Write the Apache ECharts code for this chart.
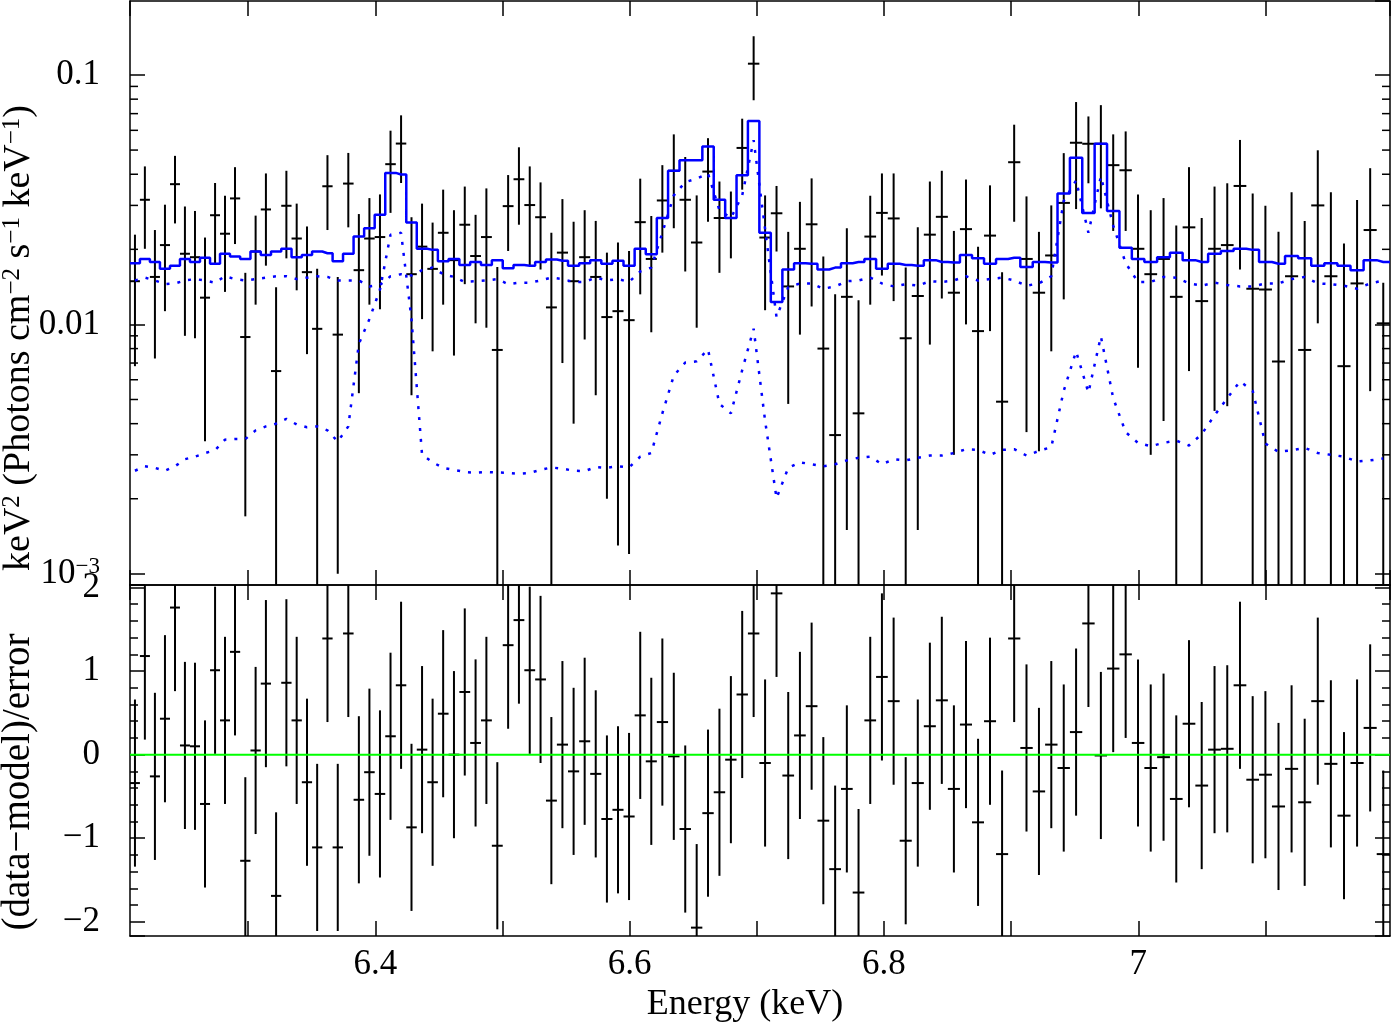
<!DOCTYPE html>
<html>
<head>
<meta charset="utf-8">
<script src="https://cdn.jsdelivr.net/npm/echarts@6/dist/echarts.min.js"></script>
<style>
  html, body { margin: 0; padding: 0; background: #fff; }
  #chart { width: 1392px; height: 1025px; }
</style>
</head>
<body>
<div id="chart"></div>
<script>
// channel centres (keV), one per spectral bin
const energy = [
  6.2109, 6.2187, 6.2266, 6.2345, 6.2424, 6.2502, 6.2581, 6.2660, 6.2739, 6.2817,
  6.2896, 6.2977, 6.3058, 6.3139, 6.3219, 6.3300, 6.3381, 6.3462, 6.3542, 6.3623,
  6.3704, 6.3787, 6.3870, 6.3953, 6.4036, 6.4119, 6.4202, 6.4284, 6.4367, 6.4450,
  6.4533, 6.4618, 6.4703, 6.4788, 6.4873, 6.4959, 6.5044, 6.5129, 6.5214, 6.5299,
  6.5384, 6.5471, 6.5559, 6.5646, 6.5733, 6.5821, 6.5908, 6.5995, 6.6083, 6.6170,
  6.6257, 6.6347, 6.6437, 6.6527, 6.6616, 6.6706, 6.6796, 6.6885, 6.6975, 6.7065,
  6.7155, 6.7247, 6.7339, 6.7431, 6.7523, 6.7616, 6.7708, 6.7800, 6.7892, 6.7984,
  6.8076, 6.8171, 6.8266, 6.8361, 6.8455, 6.8550, 6.8645, 6.8740, 6.8834, 6.8929,
  6.9024, 6.9121, 6.9219, 6.9316, 6.9414, 6.9511, 6.9608, 6.9706, 6.9803, 6.9901,
  6.9998, 7.0098, 7.0199, 7.0299, 7.0399, 7.0499, 7.0600, 7.0700, 7.0800, 7.0900,
  7.1000, 7.1103, 7.1206, 7.1309, 7.1412, 7.1515, 7.1618, 7.1721, 7.1824, 7.1927
];

// unfolded data, keV^2 (Photons cm^-2 s^-1 keV^-1)
const flux = [
  0.0149, 0.0316, 0.0155, 0.0208, 0.0365, 0.0192, 0.0186, 0.0128, 0.0274, 0.0231,
  0.0320, 0.0089, 0.0196, 0.0289, 0.0065, 0.0299, 0.0221, 0.0162, 0.0096, 0.0358,
  0.0091, 0.0367, 0.0165, 0.0221, 0.0224, 0.0439, 0.0531, 0.0159, 0.0205, 0.0167,
  0.0233, 0.0181, 0.0251, 0.0188, 0.0224, 0.0079, 0.0298, 0.0382, 0.0301, 0.0269,
  0.0117, 0.0194, 0.0149, 0.0186, 0.0155, 0.0107, 0.0113, 0.0104, 0.0257, 0.0183,
  0.0314, 0.0413, 0.0316, 0.0213, 0.0410, 0.0267, 0.0267, 0.0510, 0.1110, 0.0223,
  0.0279, 0.0142, 0.0201, 0.0252, 0.0080, 0.0036, 0.0129, 0.0044, 0.0225, 0.0280,
  0.0266, 0.0088, 0.0130, 0.0229, 0.0270, 0.0134, 0.0241, 0.0094, 0.0227, 0.0049,
  0.0447, 0.0183, 0.0134, 0.0189, 0.0307, 0.0535, 0.0530, 0.0530, 0.0435, 0.0415,
  0.0201, 0.0159, 0.0183, 0.0129, 0.0245, 0.0124, 0.0201, 0.0208, 0.0359, 0.0139,
  0.0138, 0.0071, 0.0156, 0.0079, 0.0300, 0.0156, 0.0068, 0.0146, 0.0239, 0.0101
];
// upper end of each error bar
const fluxHi = [
  0.0229, 0.0430, 0.0239, 0.0302, 0.0474, 0.0297, 0.0285, 0.0223, 0.0369, 0.0328,
  0.0427, 0.0161, 0.0273, 0.0403, 0.0141, 0.0413, 0.0305, 0.0247, 0.0167, 0.0477,
  0.0155, 0.0487, 0.0277, 0.0321, 0.0332, 0.0598, 0.0689, 0.0269, 0.0305, 0.0256,
  0.0347, 0.0287, 0.0357, 0.0275, 0.0351, 0.0170, 0.0397, 0.0513, 0.0430, 0.0371,
  0.0233, 0.0318, 0.0258, 0.0287, 0.0260, 0.0194, 0.0213, 0.0197, 0.0384, 0.0272,
  0.0435, 0.0578, 0.0469, 0.0329, 0.0558, 0.0374, 0.0341, 0.0668, 0.1430, 0.0329,
  0.0359, 0.0235, 0.0310, 0.0385, 0.0187, 0.0132, 0.0243, 0.0125, 0.0328, 0.0403,
  0.0403, 0.0169, 0.0245, 0.0374, 0.0413, 0.0237, 0.0381, 0.0205, 0.0361, 0.0162,
  0.0632, 0.0326, 0.0235, 0.0300, 0.0486, 0.0779, 0.0682, 0.0757, 0.0578, 0.0594,
  0.0332, 0.0287, 0.0321, 0.0249, 0.0427, 0.0267, 0.0357, 0.0368, 0.0549, 0.0335,
  0.0299, 0.0235, 0.0339, 0.0260, 0.0499, 0.0339, 0.0211, 0.0315, 0.0423, 0.0147
];
// lower end of each error bar (0 = runs off the bottom of the panel)
const fluxLo = [
  0.0068, 0.0201, 0.0073, 0.0113, 0.0254, 0.0090, 0.0088, 0.0034, 0.0175, 0.0135,
  0.0210, 0.0017, 0.0120, 0.0172, 0, 0.0184, 0.0137, 0.0076, 0, 0.0239,
  0.0010, 0.0245, 0.0053, 0.0120, 0.0115, 0.0280, 0.0369, 0.0052, 0.0105, 0.0078,
  0.0120, 0.0075, 0.0145, 0.0101, 0.0097, 0, 0.0197, 0.0251, 0.0173, 0.0166,
  0, 0.0070, 0.0040, 0.0087, 0.0052, 0.0020, 0.0013, 0.0012, 0.0132, 0.0093,
  0.0194, 0.0243, 0.0163, 0.0097, 0.0258, 0.0161, 0.0184, 0.0347, 0.0792, 0.0114,
  0.0196, 0.0048, 0.0091, 0.0118, 0, 0, 0.0015, 0, 0.0120, 0.0157,
  0.0124, 0, 0.0015, 0.0083, 0.0127, 0.0030, 0.0100, 0, 0.0094, 0,
  0.0258, 0.0037, 0.0031, 0.0078, 0.0126, 0.0290, 0.0368, 0.0292, 0.0237, 0.0237,
  0.0067, 0.0030, 0.0041, 0, 0.0065, 0, 0.0045, 0.0047, 0.0166, 0,
  0, 0, 0, 0, 0.0101, 0, 0, 0, 0.0054, 0
];

// folded total model (histogram)
const model = [
  0.0176, 0.0183, 0.0178, 0.0167, 0.0172, 0.0183, 0.0178, 0.0185, 0.0175, 0.0192,
  0.0187, 0.0183, 0.0196, 0.0190, 0.0196, 0.0201, 0.0186, 0.0190, 0.0196, 0.0193,
  0.0179, 0.0192, 0.0225, 0.0243, 0.0275, 0.0405, 0.0399, 0.0256, 0.0201, 0.0199,
  0.0179, 0.0183, 0.0173, 0.0178, 0.0173, 0.0181, 0.0168, 0.0173, 0.0172, 0.0178,
  0.0182, 0.0180, 0.0172, 0.0176, 0.0181, 0.0175, 0.0180, 0.0172, 0.0201, 0.0191,
  0.0267, 0.0413, 0.0455, 0.0455, 0.0517, 0.0316, 0.0267, 0.0396, 0.0654, 0.0233,
  0.0123, 0.0166, 0.0176, 0.0175, 0.0166, 0.0169, 0.0176, 0.0178, 0.0183, 0.0167,
  0.0175, 0.0173, 0.0172, 0.0181, 0.0178, 0.0177, 0.0190, 0.0184, 0.0175, 0.0183,
  0.0185, 0.0170, 0.0178, 0.0177, 0.0335, 0.0466, 0.0280, 0.0530, 0.0285, 0.0203,
  0.0183, 0.0178, 0.0186, 0.0194, 0.0181, 0.0178, 0.0192, 0.0197, 0.0201, 0.0199,
  0.0178, 0.0175, 0.0188, 0.0184, 0.0172, 0.0176, 0.0172, 0.0165, 0.0181, 0.0178
];

// model components (dotted)
const compUpper = [
  0.0150, 0.0154, 0.0150, 0.0145, 0.0146, 0.0150, 0.0152, 0.0150, 0.0147, 0.0156,
  0.0152, 0.0150, 0.0152, 0.0154, 0.0156, 0.0156, 0.0152, 0.0154, 0.0156, 0.0155,
  0.0150, 0.0150, 0.0150, 0.0142, 0.0144, 0.0156, 0.0159, 0.0157, 0.0165, 0.0169,
  0.0159, 0.0155, 0.0148, 0.0149, 0.0150, 0.0152, 0.0145, 0.0147, 0.0147, 0.0150,
  0.0154, 0.0152, 0.0148, 0.0148, 0.0154, 0.0150, 0.0152, 0.0148, 0.0163, 0.0169,
  0.0233, 0.0329, 0.0372, 0.0384, 0.0403, 0.0287, 0.0267, 0.0329, 0.0548, 0.0241,
  0.0107, 0.0141, 0.0146, 0.0146, 0.0139, 0.0142, 0.0149, 0.0150, 0.0154, 0.0146,
  0.0142, 0.0145, 0.0143, 0.0149, 0.0148, 0.0150, 0.0156, 0.0150, 0.0152, 0.0154,
  0.0150, 0.0143, 0.0146, 0.0156, 0.0313, 0.0378, 0.0233, 0.0392, 0.0249, 0.0176,
  0.0148, 0.0148, 0.0155, 0.0154, 0.0146, 0.0143, 0.0147, 0.0144, 0.0142, 0.0142,
  0.0146, 0.0146, 0.0152, 0.0155, 0.0146, 0.0145, 0.0143, 0.0139, 0.0146, 0.0150
];
const compLower = [
  0.00259, 0.00270, 0.00266, 0.00259, 0.00270, 0.00288, 0.00295, 0.00305, 0.00313, 0.00345,
  0.00347, 0.00347, 0.00376, 0.00390, 0.00400, 0.00418, 0.00397, 0.00387, 0.00390, 0.00376,
  0.00339, 0.00390, 0.00836, 0.01050, 0.01380, 0.02290, 0.02330, 0.01050, 0.00300, 0.00280,
  0.00266, 0.00261, 0.00256, 0.00254, 0.00256, 0.00255, 0.00254, 0.00252, 0.00254, 0.00261,
  0.00267, 0.00264, 0.00259, 0.00258, 0.00268, 0.00266, 0.00270, 0.00267, 0.00295, 0.00305,
  0.00440, 0.00623, 0.00703, 0.00711, 0.00794, 0.00480, 0.00440, 0.00656, 0.00961, 0.00411,
  0.00201, 0.00266, 0.00280, 0.00275, 0.00270, 0.00275, 0.00285, 0.00292, 0.00295, 0.00275,
  0.00288, 0.00285, 0.00292, 0.00298, 0.00298, 0.00305, 0.00316, 0.00314, 0.00300, 0.00314,
  0.00316, 0.00298, 0.00311, 0.00322, 0.00542, 0.00780, 0.00533, 0.00896, 0.00506, 0.00370,
  0.00335, 0.00325, 0.00335, 0.00342, 0.00327, 0.00363, 0.00432, 0.00506, 0.00591, 0.00542,
  0.00333, 0.00308, 0.00313, 0.00320, 0.00305, 0.00300, 0.00295, 0.00282, 0.00285, 0.00290
];

// (data-model)/error, error bars are +-1
const resid = [
  -0.34, 1.18, -0.26, 0.43, 1.76, 0.11, 0.10, -0.59, 1.01, 0.41,
  1.23, -1.27, 0.05, 0.85, -1.69, 0.86, 0.41, -0.33, -1.11, 1.39,
  -1.11, 1.45, -0.54, -0.21, -0.47, 0.22, 0.83, -0.87, 0.06, -0.33,
  0.49, 0.00, 0.75, 0.14, 0.41, -1.09, 1.31, 1.61, 1.01, 0.90,
  -0.55, 0.12, -0.20, 0.16, -0.23, -0.77, -0.66, -0.74, 0.47, -0.08,
  0.39, -0.02, -0.89, -2.07, -0.70, -0.45, -0.06, 0.72, 1.45, -0.10,
  1.93, -0.25, 0.23, 0.58, -0.79, -1.37, -0.41, -1.65, 0.41, 0.93,
  0.64, -1.03, -0.34, 0.34, 0.65, -0.41, 0.36, -0.81, 0.40, -1.19,
  1.39, 0.08, -0.44, 0.12, -0.16, 0.27, 1.57, -0.01, 1.03, 1.20,
  0.14, -0.16, -0.03, -0.53, 0.37, -0.37, 0.06, 0.07, 0.83, -0.30,
  -0.24, -0.62, -0.17, -0.57, 0.64, -0.11, -0.73, -0.10, 0.32, -1.19
];

// tick labels
const energyLabels = [6.4, 6.6, 6.8, 7];
const fluxLabels = { '-1': '0.1', '-2': '0.01', '-3': '10{sup|−3}' };
const fluxMinorTicks = [
  0.002, 0.003, 0.004, 0.005, 0.006, 0.007, 0.008, 0.009,
  0.02, 0.03, 0.04, 0.05, 0.06, 0.07, 0.08, 0.09
];

const xMin = 6.207, xMax = 7.198;
const fluxMin = 0.000902, fluxMax = 0.198;
const resMin = -2.17, resMax = 2.03;
const font = 'Liberation Serif';

const chart = echarts.init(document.getElementById('chart'));

// bin edges halfway between neighbouring channels
const n = energy.length;
const edges = energy.map((e, i) => i === 0 ? e - (energy[1] - e) / 2 : (energy[i - 1] + e) / 2);
edges.push(energy[n - 1] + (energy[n - 1] - energy[n - 2]) / 2);

const fluxRows = energy.map((e, i) => [e, flux[i], fluxLo[i], fluxHi[i], edges[i], edges[i + 1]]);
const residRows = energy.map((e, i) => [e, resid[i], resid[i] - 1, resid[i] + 1, edges[i], edges[i + 1]]);
const modelLine = [[xMin, model[0]]].concat(energy.map((e, i) => [e, model[i]]), [[xMax, model[n - 1]]]);

// data point: vertical error bar + horizontal bin width
function crossItem(low, high) {
  return function (params, api) {
    const x = api.value(0), y = api.value(1);
    const lo = Math.max(api.value(2), low);
    const hi = Math.min(api.value(3), high);
    const top = api.coord([x, hi]);
    const bot = api.coord([x, lo]);
    const l = api.coord([Math.max(api.value(4), xMin), y]);
    const r = api.coord([Math.min(api.value(5), xMax), y]);
    const st = { stroke: '#000', lineWidth: 2 };
    return {
      type: 'group',
      children: [
        { type: 'line', shape: { x1: top[0], y1: top[1], x2: bot[0], y2: bot[1] }, style: st },
        { type: 'line', shape: { x1: l[0], y1: l[1], x2: r[0], y2: r[1] }, style: st }
      ]
    };
  };
}

const lineStyle = { color: '#000', width: 1.5 };
function frame(o) {
  return Object.assign({
    axisLine: { show: true, onZero: false, lineStyle },
    axisTick: { show: true, inside: true, length: 15, lineStyle },
    splitLine: { show: false }
  }, o);
}
const noLabel = { show: false };

const option = {
  animation: false,
  backgroundColor: '#fff',
  grid: [
    { left: 130, right: 2, top: 1, height: 584 },
    { left: 130, right: 2, top: 585, height: 351 }
  ],
  xAxis: [
    frame({ gridIndex: 0, type: 'value', min: xMin, max: xMax, splitNumber: 10, position: 'bottom', axisLabel: noLabel }),
    frame({ gridIndex: 0, type: 'value', min: xMin, max: xMax, splitNumber: 10, position: 'top', axisLabel: noLabel }),
    frame({
      gridIndex: 1, type: 'value', min: xMin, max: xMax, splitNumber: 10, position: 'bottom',
      axisLabel: {
        margin: 11, color: '#000', fontSize: 35, fontFamily: font,
        showMinLabel: false, showMaxLabel: false,
        formatter: v => energyLabels.some(t => Math.abs(t - v) < 1e-6) ? String(+v.toFixed(1)) : ''
      }
    }),
    frame({ gridIndex: 1, type: 'value', min: xMin, max: xMax, splitNumber: 10, position: 'top', axisLabel: noLabel })
  ],
  yAxis: [
    frame({
      gridIndex: 0, type: 'log', logBase: 10, min: fluxMin, max: fluxMax, position: 'left',
      axisLabel: {
        margin: 30, color: '#000', fontSize: 35, fontFamily: font,
        showMinLabel: false, showMaxLabel: false,
        formatter: v => {
          const p = Math.log10(v);
          if (Math.abs(p - Math.round(p)) > 1e-6) return '';
          return fluxLabels[String(Math.round(p))] || '';
        },
        rich: { sup: { fontSize: 23, fontFamily: font, color: '#000', verticalAlign: 'top', padding: [0, 0, 14, 0] } }
      }
    }),
    frame({ gridIndex: 0, type: 'log', logBase: 10, min: fluxMin, max: fluxMax, position: 'right', axisLabel: noLabel }),
    frame({
      gridIndex: 1, type: 'value', min: resMin, max: resMax, splitNumber: 4, position: 'left',
      minorTick: { show: true, splitNumber: 5, length: 8, lineStyle },
      axisLabel: {
        margin: 30, color: '#000', fontSize: 35, fontFamily: font,
        showMinLabel: false, showMaxLabel: false,
        formatter: v => (Math.abs(v - Math.round(v)) > 1e-6) ? '' : (v < 0 ? '−' + Math.abs(Math.round(v)) : String(Math.round(v)))
      }
    }),
    frame({
      gridIndex: 1, type: 'value', min: resMin, max: resMax, splitNumber: 4, position: 'right',
      minorTick: { show: true, splitNumber: 5, length: 8, lineStyle },
      axisLabel: noLabel
    })
  ],
  graphic: [
    {
      type: 'text', x: 19, y: 338, rotation: Math.PI / 2,
      style: {
        text: 'keV{s|2} (Photons cm{s|−2} s{s|−1} keV{s|−1})',
        font: '38px "Liberation Serif"', fill: '#000', align: 'center', verticalAlign: 'middle',
        rich: { s: { font: '25px "Liberation Serif"', fill: '#000', verticalAlign: 'top' } }
      }
    },
    {
      type: 'text', x: 19, y: 782, rotation: Math.PI / 2,
      style: { text: '(data−model)/error', font: '39px "Liberation Serif"', fill: '#000', align: 'center', verticalAlign: 'middle' }
    },
    {
      type: 'text', x: 745, y: 1005,
      style: { text: 'Energy (keV)', font: '36px "Liberation Serif"', fill: '#000', align: 'center', verticalAlign: 'middle' }
    }
  ],
  series: [
    {
      name: 'data', type: 'custom', xAxisIndex: 0, yAxisIndex: 0,
      renderItem: crossItem(fluxMin, fluxMax), data: fluxRows, z: 2
    },
    {
      name: 'component 1', type: 'line', xAxisIndex: 0, yAxisIndex: 0, symbol: 'none',
      data: energy.map((e, i) => [e, compUpper[i]]),
      lineStyle: { color: '#0000ff', width: 2.5, type: [3, 8] }, z: 3
    },
    {
      name: 'component 2', type: 'line', xAxisIndex: 0, yAxisIndex: 0, symbol: 'none',
      data: energy.map((e, i) => [e, compLower[i]]),
      lineStyle: { color: '#0000ff', width: 2.5, type: [3, 8] }, z: 3
    },
    {
      name: 'model', type: 'line', xAxisIndex: 0, yAxisIndex: 0, symbol: 'none', step: 'middle',
      data: modelLine, lineStyle: { color: '#0000ff', width: 2.5 }, z: 4
    },
    {
      // log minor ticks on both sides of the upper panel
      name: 'minor ticks', type: 'custom', xAxisIndex: 0, yAxisIndex: 0, silent: true,
      data: fluxMinorTicks.map(v => [xMin, v]),
      renderItem: (params, api) => {
        const a = api.coord([xMin, api.value(1)]);
        const b = api.coord([xMax, api.value(1)]);
        return {
          type: 'group',
          children: [
            { type: 'line', shape: { x1: a[0], y1: a[1], x2: a[0] + 8, y2: a[1] }, style: { stroke: '#000', lineWidth: 1.5 } },
            { type: 'line', shape: { x1: b[0] - 8, y1: b[1], x2: b[0], y2: b[1] }, style: { stroke: '#000', lineWidth: 1.5 } }
          ]
        };
      }
    },
    {
      name: 'residuals', type: 'custom', xAxisIndex: 2, yAxisIndex: 2,
      renderItem: crossItem(resMin, resMax), data: residRows, z: 2
    },
    {
      name: 'zero', type: 'line', xAxisIndex: 2, yAxisIndex: 2, symbol: 'none',
      data: [[xMin, 0], [xMax, 0]], lineStyle: { color: '#00ff00', width: 2 }, z: 4
    }
  ]
};

chart.setOption(option);
</script>
</body>
</html>
